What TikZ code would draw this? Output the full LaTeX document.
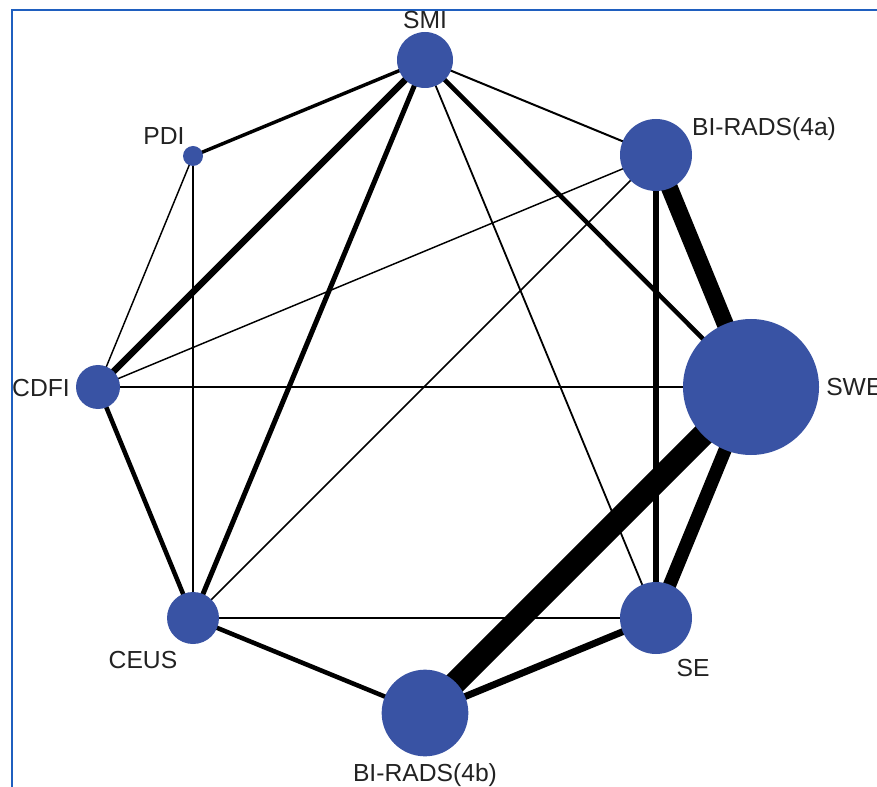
\documentclass[tikz,border=0pt]{standalone}
\usepackage{fontspec}
\setmainfont{Liberation Sans}
\usetikzlibrary{backgrounds}
\definecolor{dot}{HTML}{3953A4}
\definecolor{boxblue}{HTML}{1F5FBF}
\definecolor{txt}{HTML}{222222}
\tikzset{vtx/.style={circle,fill=dot,inner sep=0pt}, lbl/.style={text=txt,inner sep=0pt,font=\fontsize{18.5}{20}\selectfont}, link/.style={draw=black,line cap=butt}}

\begin{document}
\begin{tikzpicture}[x=0.75pt,y=-0.75pt]
\useasboundingbox (0,0) rectangle (877,787);
\clip (0,0) rectangle (877,787);
\draw[boxblue,line width=1.5pt] (12,787)--(12,10)--(877,10);
\foreach \n/\x/\y/\d in {smi/425/60/42,pdi/193/156/15,ra/656/155/54,swe/751/387/102,se/656/618/54,rb/425/713/65,ceus/193/618/39,cdfi/98/387/33}{\node[vtx,minimum size=\d pt] (\n) at (\x,\y){};}
\begin{scope}[on background layer]
\foreach \a/\b/\w in {smi/pdi/2.6,smi/cdfi/4.9,smi/ceus/3.75,smi/se/1.35,smi/swe/3.4,smi/ra/1.5,pdi/cdfi/1.1,pdi/ceus/1.1,cdfi/ra/1.1,cdfi/swe/1.1,cdfi/ceus/3.4,ceus/ra/1.1,ceus/se/1.1,ceus/rb/3.4,ra/se/4.5,ra/swe/12.75,swe/rb/17,swe/se/10,se/rb/5.2}{\draw[link,line width=\w pt](\a.center)--(\b.center);}
\end{scope}
\node[lbl] (smi-l) at (425,20){SMI};
\node[lbl] (pdi-l) at (164,136){PDI};
\node[lbl] (ra-l) at (764,129){BI-RADS(4a)};
\node[lbl,anchor=west] (swe-l) at (826,387){SWE};
\node[lbl] (se-l) at (693,668){SE};
\node[lbl] (rb-l) at (425,775){BI-RADS(4b)};
\node[lbl] (ceus-l) at (143,660){CEUS};
\node[lbl] (cdfi-l) at (41,388){CDFI};
\end{tikzpicture}
\end{document}
